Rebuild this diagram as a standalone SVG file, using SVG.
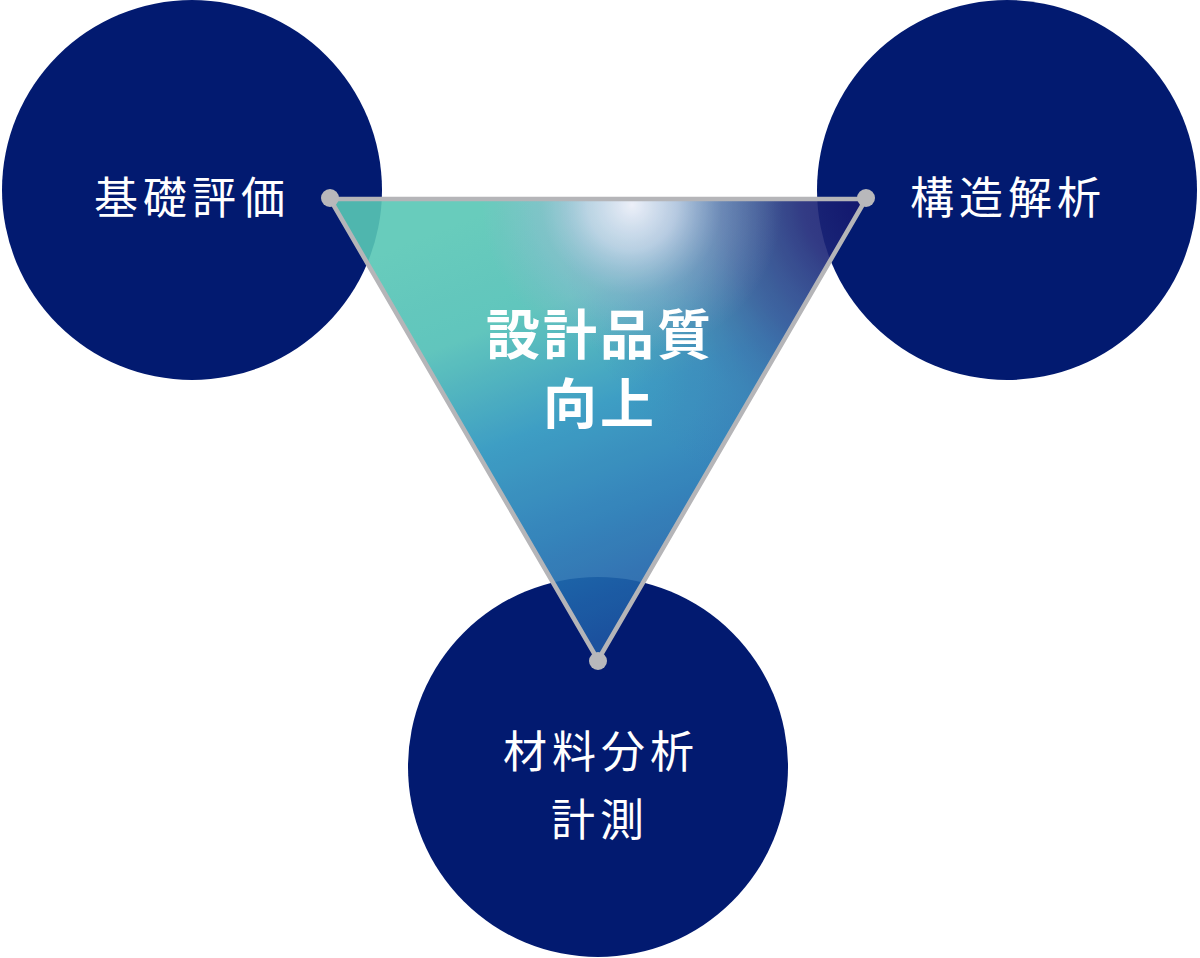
<svg xmlns="http://www.w3.org/2000/svg" width="1200" height="958" viewBox="0 0 1200 958">
  <style>
    .circle { fill: #021a70; }
    .label { font-family: "Noto Sans CJK JP", "Noto Sans", sans-serif; font-size: 44px; fill: #ffffff; text-anchor: middle; letter-spacing: 5px; }
    .center { font-family: "Noto Sans CJK JP", "Noto Sans", sans-serif; font-size: 54px; font-weight: bold; fill: #ffffff; text-anchor: middle; letter-spacing: 3px; }
    .edge { fill: none; stroke: #b5b5b8; stroke-width: 4.5; stroke-linejoin: round; }
    .dot { fill: #b8b8bb; }
  </style>
  <defs>
    <linearGradient id="baseGrad" gradientUnits="userSpaceOnUse" x1="440" y1="230" x2="600" y2="640">
      <stop offset="0" stop-color="#58c7b5"/>
      <stop offset="0.25" stop-color="#50bfb6"/>
      <stop offset="0.5" stop-color="#2a94be"/>
      <stop offset="0.75" stop-color="#2076b3"/>
      <stop offset="1" stop-color="#1e58a4"/>
    </linearGradient>
    <radialGradient id="darkGrad" gradientUnits="userSpaceOnUse" cx="885" cy="195" r="330">
      <stop offset="0" stop-color="#12126a" stop-opacity="1"/>
      <stop offset="0.25" stop-color="#1a1e74" stop-opacity="0.95"/>
      <stop offset="0.5" stop-color="#263888" stop-opacity="0.7"/>
      <stop offset="0.75" stop-color="#2a5aa0" stop-opacity="0.3"/>
      <stop offset="1" stop-color="#2a6aac" stop-opacity="0"/>
    </radialGradient>
    <radialGradient id="glowGrad" gradientUnits="userSpaceOnUse" cx="632" cy="205" r="150">
      <stop offset="0" stop-color="#eef0fa" stop-opacity="0.98"/>
      <stop offset="0.3" stop-color="#d4d8f0" stop-opacity="0.75"/>
      <stop offset="0.6" stop-color="#a8b0dc" stop-opacity="0.35"/>
      <stop offset="1" stop-color="#98a4d8" stop-opacity="0"/>
    </radialGradient>
  </defs>

  <g id="node-kiso">
    <circle class="circle" cx="192" cy="190" r="190"/>
    <text class="label" x="192" y="214">基礎評価</text>
  </g>
  <g id="node-kozo">
    <circle class="circle" cx="1007" cy="190" r="190"/>
    <text class="label" x="1008" y="214">構造解析</text>
  </g>
  <g id="node-zairyo">
    <circle class="circle" cx="598" cy="767" r="190"/>
    <text class="label"><tspan x="601" y="768">材料分析</tspan><tspan x="600" y="836">計測</tspan></text>
  </g>

  <g id="node-center">
    <g opacity="0.9">
      <polygon points="330,199 866,199 598,660" fill="url(#baseGrad)"/>
      <polygon points="330,199 866,199 598,660" fill="url(#darkGrad)"/>
      <polygon points="330,199 866,199 598,660" fill="url(#glowGrad)"/>
    </g>
    <text class="center"><tspan x="600" y="355">設計品質</tspan><tspan x="600" y="424">向上</tspan></text>
  </g>

  <g id="connectors">
    <polygon class="edge" points="330,199 866,199 598,660"/>
    <circle class="dot" cx="330" cy="198" r="9"/>
    <circle class="dot" cx="866" cy="198" r="9"/>
    <circle class="dot" cx="598" cy="661" r="9"/>
  </g>
</svg>
